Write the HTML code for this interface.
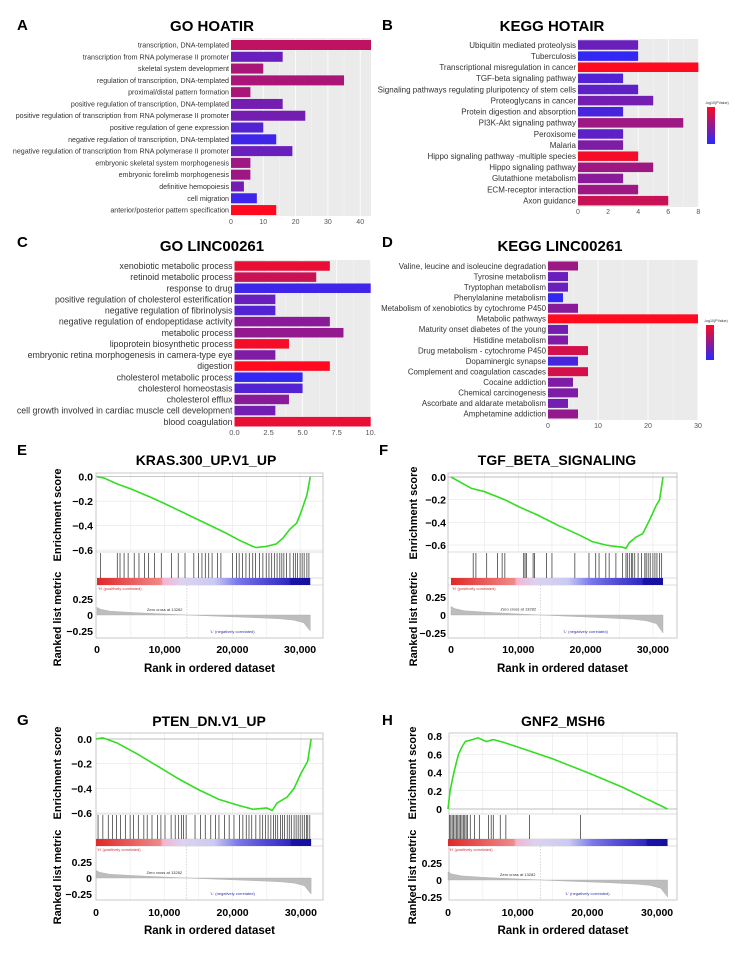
<!DOCTYPE html>
<html><head><meta charset="utf-8"><style>
html,body{margin:0;padding:0;background:#fff;}
svg{display:block;font-family:"Liberation Sans",Arial,sans-serif;}
</style></head><body>
<svg id="fig" width="749" height="959" viewBox="0 0 749 959" xmlns="http://www.w3.org/2000/svg"></svg>
<script>
// ---------- Bar chart data ----------
const aLabels=["transcription, DNA-templated","transcription from RNA polymerase II promoter","skeletal system development","regulation of transcription, DNA-templated","proximal/distal pattern formation","positive regulation of transcription, DNA-templated","positive regulation of transcription from RNA polymerase II promoter","positive regulation of gene expression","negative regulation of transcription, DNA-templated","negative regulation of transcription from RNA polymerase II promoter","embryonic skeletal system morphogenesis","embryonic forelimb morphogenesis","definitive hemopoiesis","cell migration","anterior/posterior pattern specification"];
const aValues=[44,16,10,35,6,16,23,10,14,19,6,6,4,8,14];
const aSig=[0.7,0.3,0.6,0.6,0.6,0.35,0.35,0.2,0.1,0.3,0.55,0.55,0.35,0.1,1.0];
const aTicks=[0,10,20,30,40];
const bLabels=["Ubiquitin mediated proteolysis","Tuberculosis","Transcriptional misregulation in cancer","TGF-beta signaling pathway","Signaling pathways regulating pluripotency of stem cells","Proteoglycans in cancer","Protein digestion and absorption","PI3K-Akt signaling pathway","Peroxisome","Malaria","Hippo signaling pathway -multiple species","Hippo signaling pathway","Glutathione metabolism","ECM-receptor interaction","Axon guidance"];
const bValues=[4,4,8,3,4,5,3,7,3,3,4,5,3,4,6];
const bSig=[0.3,0.05,1,0.2,0.25,0.35,0.15,0.55,0.25,0.4,0.95,0.55,0.45,0.55,0.75];
const bTicks=[0,2,4,6,8];
const cLabels=["xenobiotic metabolic process","retinoid metabolic process","response to drug","positive regulation of cholesterol esterification","negative regulation of fibrinolysis","negative regulation of endopeptidase activity","metabolic process","lipoprotein biosynthetic process","embryonic retina morphogenesis in camera-type eye","digestion","cholesterol metabolic process","cholesterol homeostasis","cholesterol efflux","cell growth involved in cardiac muscle cell development","blood coagulation"];
const cValues=[7,6,10,3,3,7,8,4,3,7,5,5,4,3,10];
const cSig=[0.9,0.75,0.1,0.3,0.2,0.45,0.5,0.95,0.4,1,0.05,0.2,0.45,0.35,0.9];
const cTicks=[0,2.5,5,7.5,10];
const cTickLabels=["0.0","2.5","5.0","7.5","10."];
const dLabels=["Valine, leucine and isoleucine degradation","Tyrosine metabolism","Tryptophan metabolism","Phenylalanine metabolism","Metabolism of xenobiotics by cytochrome P450","Metabolic pathways","Maturity onset diabetes of the young","Histidine metabolism","Drug metabolism - cytochrome P450","Dopaminergic synapse","Complement and coagulation cascades","Cocaine addiction","Chemical carcinogenesis","Ascorbate and aldarate metabolism","Amphetamine addiction"];
const dValues=[6,4,4,3,6,30,4,4,8,6,8,5,6,4,6];
const dSig=[0.55,0.3,0.3,0.05,0.45,1,0.35,0.4,0.8,0.15,0.8,0.4,0.4,0.35,0.5];
const dTicks=[0,10,20,30];

// ---------- GSEA data (ranks in thousands) ----------
const eRanks=[0,1,3,5,8,10,13,16,19,21,23,23.5,25,26.5,27.5,28.5,29.5,30.2,31,31.5];
const eES=[0,-0.01,-0.06,-0.1,-0.17,-0.22,-0.3,-0.38,-0.46,-0.52,-0.57,-0.58,-0.57,-0.55,-0.5,-0.43,-0.38,-0.28,-0.15,0];
const eHits=[0.5,3,3.4,4,4.6,5.5,6.2,7,7.6,8.5,9.5,11,12,13,14.3,15,15.5,16,16.5,17,17.8,18.3,20,20.6,21,21.5,22,22.5,23,23.4,24,24.5,25,25.4,25.8,26.2,26.6,27,27.3,27.6,28,28.5,29,29.3,29.6,30,30.3,30.6,31,31.3];
const fRanks=[0,3,5,8,10,13,16,19,21,23,24,25.5,26,26.5,27.5,28.5,29.5,30.5,31,31.5];
const fES=[0,-0.1,-0.13,-0.2,-0.26,-0.34,-0.43,-0.51,-0.57,-0.6,-0.61,-0.62,-0.63,-0.58,-0.53,-0.5,-0.38,-0.25,-0.2,0];
const fHits=[3.3,3.7,5.3,6.9,7.6,8.0,10.8,11,11.2,12.2,12.4,14.2,15,18.4,20.5,21.5,22,23,23.5,24.5,25.5,26,26.2,26.5,26.8,27,27.3,27.8,28.3,28.8,29,29.3,29.6,30,30.3,30.6,31,31.3];
const gRanks=[0,1,3,6,9,12,15,18,21,23,25,25.8,26.5,28,29,30,31,31.5];
const gES=[0,0.01,-0.03,-0.12,-0.22,-0.32,-0.41,-0.49,-0.54,-0.57,-0.56,-0.58,-0.52,-0.47,-0.4,-0.28,-0.18,0];
const gHits=[0.3,1,1.8,2.4,3,3.6,4.3,5,5.5,6.2,7,7.5,8.2,9,9.5,10.1,11,11.6,12.1,12.5,12.8,13.2,14.5,15.3,16,16.8,17.5,18,18.8,19.5,20.2,21,21.5,22,22.4,22.8,23.4,24,24.4,24.8,25.2,25.6,26,26.3,26.6,27,27.3,27.6,28,28.3,28.6,29,29.3,29.6,29.9,30.2,30.5,30.8,31,31.3];
const hRanks=[0,0.3,0.7,1,1.5,2,2.5,3.5,4.3,5.5,6.5,8,10,15,20,25,31.5];
const hES=[0,0.2,0.35,0.45,0.6,0.68,0.74,0.76,0.78,0.74,0.76,0.73,0.68,0.55,0.4,0.24,0];
const hHits=[0.2,0.4,0.6,0.8,1,1.2,1.4,1.6,1.8,2,2.2,2.4,2.6,2.8,3.2,3.8,4.5,5.8,6.2,6.5,7.5,8.3,11.7,19];
const metricRanks=[0,0.5,2,5,9,13.28,18,23,27,29,30.5,31.5];
const metricValues=[0.12,0.09,0.06,0.04,0.02,0,-0.02,-0.04,-0.06,-0.08,-0.12,-0.25];

const NS='http://www.w3.org/2000/svg';
const svg=document.getElementById('fig');
function mk(tag,parent,attrs){const e=document.createElementNS(NS,tag);for(const k in attrs)e.setAttribute(k,attrs[k]);parent.appendChild(e);return e;}
function sigColor(p){const r=Math.round(40+(255-40)*p),g=Math.round(40+(10-40)*p),b=Math.round(255+(30-255)*p);return `rgb(${r},${g},${b})`;}
function txt(parent,x,y,s,size,opts){const t=mk('text',parent,Object.assign({x:x,y:y,'font-size':size},opts||{}));t.textContent=s;return t;}

function panelHead(letter,lx,ly,title,tx,ty,tsize){
  const l=txt(svg,lx,ly,letter,15,{'font-weight':'bold'});
  
  
  const t=txt(svg,tx,ty,title,tsize,{'font-weight':'bold','text-anchor':'middle'});
  
  
}

function barChart(id,labels,vals,sig,ticks,tickLabels,L){
  const g=mk('g',svg,{});
  
  
  const sx=v=>L.x0+v*L.ppu;
  const bg=mk('rect',g,{x:L.x0,y:L.top,width:L.xr-L.x0,height:L.bot-L.top,fill:'#ebebeb'});
  
  
  for(let i=0;i<ticks.length;i++){
    const x=sx(ticks[i]);
    if(x<=L.xr) mk('line',g,{x1:x,x2:x,y1:L.top,y2:L.bot,stroke:'#fff','stroke-width':0.8});
    if(i<ticks.length-1){const xm=sx((ticks[i]+ticks[i+1])/2);if(xm<=L.xr) mk('line',g,{x1:xm,x2:xm,y1:L.top,y2:L.bot,stroke:'#f6f6f6','stroke-width':0.5});}
  }
  for(let i=0;i<labels.length;i++){
    const y=L.y0+i*L.sp;
    const w=Math.min(sx(vals[i]),L.xr)-L.x0;
    const r=mk('rect',g,{x:L.x0,y:y-L.bh/2,width:w,height:L.bh,fill:sigColor(sig[i])});
    
    
    const t=txt(g,L.x0-2,y+L.fs*0.35,labels[i],L.fs,{'text-anchor':'end',fill:'#333'});
    
    
  }
  for(let i=0;i<ticks.length;i++){
    const t=txt(g,sx(ticks[i]),L.tickY,tickLabels[i],L.tfs,{'text-anchor':'middle',fill:'#555'});
    
    
  }
  if(L.legend){
    const lg=mk('g',g,{});
    
    
    const gid='grad-'+id;
    const defs=mk('defs',lg,{});
    const lgr=mk('linearGradient',defs,{id:gid,x1:0,y1:1,x2:0,y2:0});
    mk('stop',lgr,{offset:'0','stop-color':sigColor(0)});
    mk('stop',lgr,{offset:'0.5','stop-color':sigColor(0.5)});
    mk('stop',lgr,{offset:'1','stop-color':sigColor(1)});
    mk('rect',lg,{x:L.legend.x,y:L.legend.y,width:8,height:L.legend.h,fill:`url(#${gid})`});
    txt(lg,L.legend.x-2,L.legend.y-3,'-log10(PValue)',3.6,{fill:'#333'});
  }
}

function gsea(id,ranks,es,hits,L){
  const g=mk('g',svg,{});
  
  
  const sx=r=>L.x0+r*L.ppk;
  const sy=v=>L.es0-v*L.esS;
  const my=v=>L.m0-v*L.mS;
  for(let r=5;r<=30;r+=5){
    const x=sx(r);
    mk('line',g,{x1:x,x2:x,y1:L.top,y2:L.esBot,stroke:'#e6e6e6','stroke-width':0.6});
    mk('line',g,{x1:x,x2:x,y1:L.cbBot,y2:L.bot,stroke:'#ececec','stroke-width':0.6});
  }
  for(const v of L.esTicks){const y=sy(v);mk('line',g,{x1:L.fl,x2:L.fr,y1:y,y2:y,stroke:'#e6e6e6','stroke-width':0.6});}
  const fr=mk('rect',g,{x:L.fl,y:L.top,width:L.fr-L.fl,height:L.bot-L.top,fill:'none',stroke:'#bbb','stroke-width':0.8});
  
  
  mk('line',g,{x1:L.fl,x2:L.fr,y1:L.esBot,y2:L.esBot,stroke:'#bbb','stroke-width':0.6});
  mk('line',g,{x1:L.fl,x2:L.fr,y1:L.hitBot,y2:L.hitBot,stroke:'#bbb','stroke-width':0.6});
  mk('line',g,{x1:L.fl,x2:L.fr,y1:L.cbBot,y2:L.cbBot,stroke:'#bbb','stroke-width':0.6});
  mk('line',g,{x1:L.fl,x2:L.fr,y1:sy(0),y2:sy(0),stroke:'#aaa','stroke-width':0.7});
  const pts=ranks.map((r,i)=>sx(r).toFixed(1)+','+sy(es[i]).toFixed(1)).join(' ');
  const pl=mk('polyline',g,{points:pts,fill:'none',stroke:'#33dd22','stroke-width':1.6});
  
  
  const hg=mk('g',g,{});
  
  
  for(const h of hits){const x=sx(h);mk('line',hg,{x1:x,x2:x,y1:L.esBot+1,y2:L.hitBot,stroke:'#222','stroke-width':0.8,'stroke-opacity':0.85});}
  const gid='cb-'+id;
  const defs=mk('defs',g,{});
  const lg=mk('linearGradient',defs,{id:gid,x1:0,y1:0,x2:1,y2:0});
  [[0,'#e02828'],[0.3,'#f08a8a'],[0.31,'#f2b4d2'],[0.4,'#dcd2f0'],[0.55,'#cbcaf2'],[0.66,'#7a78ea'],[0.76,'#5a52d8'],[0.9,'#3028c0'],[0.91,'#1a12a8'],[1,'#14109c']].forEach(s=>mk('stop',lg,{offset:s[0],'stop-color':s[1]}));
  const cb=mk('rect',g,{x:sx(0),y:L.hitBot,width:sx(31.5)-sx(0),height:L.cbBot-L.hitBot,fill:`url(#${gid})`});
  
  
  txt(g,sx(0)+1,L.cbBot+5,"'H' (positively correlated)",4,{fill:'#d03030'});
  let d='M'+sx(metricRanks[0])+','+my(0);
  metricRanks.forEach((r,i)=>{d+=' L'+sx(r).toFixed(1)+','+my(metricValues[i]).toFixed(1);});
  d+=' L'+sx(metricRanks[metricRanks.length-1])+','+my(0)+' Z';
  const mp=mk('path',g,{d:d,fill:'#bdbdbd',stroke:'#aaa','stroke-width':0.4});
  
  
  const zx=sx(13.282);
  mk('line',g,{x1:zx,x2:zx,y1:L.cbBot,y2:L.bot,stroke:'#bbb','stroke-width':0.6,'stroke-dasharray':'1.5,1.5'});
  txt(g,sx(10),my(0.06),'Zero cross at 13282',4,{fill:'#333','text-anchor':'middle'});
  txt(g,sx(20),L.bot-5,"'L' (negatively correlated)",4,{fill:'#3030b0','text-anchor':'middle'});
  L.esTicks.forEach((v,i)=>{const t=txt(g,L.yl,sy(v)+4,L.esTickLabels[i],10.5,{'font-weight':'bold','text-anchor':'end'});
    
    });
  [0.25,0,-0.25].forEach((v,i)=>{const t=txt(g,L.yl,my(v)+4,['0.25','0','\u22120.25'][i],10.5,{'font-weight':'bold','text-anchor':'end'});
    
    });
  ['0','10,000','20,000','30,000'].forEach((s,i)=>{const t=txt(g,sx(i*10),L.xtY,s,10.5,{'font-weight':'bold','text-anchor':'middle'});
    
    });
  const xl=txt(g,(L.fl+L.fr)/2,L.xlY,'Rank in ordered dataset',11.5,{'font-weight':'bold','text-anchor':'middle'});
  
  
  const y1=txt(g,0,0,'Enrichment score',11,{'font-weight':'bold','text-anchor':'middle',transform:`translate(${L.ytX},${L.ytES}) rotate(-90)`});
  
  
  const y2=txt(g,0,0,'Ranked list metric',11,{'font-weight':'bold','text-anchor':'middle',transform:`translate(${L.ytX},${L.ytRM}) rotate(-90)`});
  
  
}

panelHead('A',17,30,'GO HOATIR',212,31,15);
barChart('bar-chart-go-hotair',aLabels,aValues,aSig,aTicks,aTicks.map(String),{x0:231,ppu:3.23,xr:371,top:38,bot:216,y0:45,sp:11.79,bh:10,fs:7.1,tickY:224,tfs:7});
panelHead('B',382,30,'KEGG HOTAIR',552,31,15);
barChart('bar-chart-kegg-hotair',bLabels,bValues,bSig,bTicks,bTicks.map(String),{x0:578,ppu:15.04,xr:699,top:39,bot:207,y0:45,sp:11.12,bh:9.5,fs:8.0,tickY:214,tfs:7,legend:{x:707,y:107,h:37}});
panelHead('C',17,247,'GO LINC00261',212,251,15);
barChart('bar-chart-go-linc00261',cLabels,cValues,cSig,cTicks,cTickLabels,{x0:234.5,ppu:13.62,xr:371,top:260,bot:427,y0:266,sp:11.12,bh:9.5,fs:8.8,tickY:435,tfs:7.5});
panelHead('D',382,247,'KEGG LINC00261',560,251,15);
barChart('bar-chart-kegg-linc00261',dLabels,dValues,dSig,dTicks,dTicks.map(String),{x0:548,ppu:5.0,xr:698,top:260,bot:420,y0:266,sp:10.57,bh:9,fs:7.9,tickY:428,tfs:7,legend:{x:706,y:325,h:35}});

panelHead('E',17,455,'KRAS.300_UP.V1_UP',206,465,14);
gsea('gsea-kras',eRanks,eES,eHits,{x0:97,ppk:6.77,fl:96,fr:323,top:473,es0:476.7,esS:122.2,esBot:552,hitBot:578,cbBot:585,m0:615,mS:64,bot:638,yl:93,esTicks:[0,-0.2,-0.4,-0.6],esTickLabels:['0.0','\u22120.2','\u22120.4','\u22120.6'],xtY:653,xlY:672,ytX:61,ytES:515,ytRM:619});
panelHead('F',379,455,'TGF_BETA_SIGNALING',557,465,14);
gsea('gsea-tgf-beta',fRanks,fES,fHits,{x0:451,ppk:6.73,fl:448,fr:677,top:473,es0:477,esS:113.3,esBot:552,hitBot:578,cbBot:585,m0:615,mS:72,bot:638,yl:446,esTicks:[0,-0.2,-0.4,-0.6],esTickLabels:['0.0','\u22120.2','\u22120.4','\u22120.6'],xtY:653,xlY:672,ytX:417,ytES:513,ytRM:619});
panelHead('G',17,725,'PTEN_DN.V1_UP',209,726,14);
gsea('gsea-pten',gRanks,gES,gHits,{x0:96,ppk:6.83,fl:96,fr:323,top:733,es0:739,esS:123.3,esBot:814,hitBot:839,cbBot:846,m0:878,mS:64,bot:900,yl:92,esTicks:[0,-0.2,-0.4,-0.6],esTickLabels:['0.0','\u22120.2','\u22120.4','\u22120.6'],xtY:916,xlY:934,ytX:61,ytES:773,ytRM:877});
panelHead('H',382,725,'GNF2_MSH6',563,726,14);
gsea('gsea-gnf2-msh6',hRanks,hES,hHits,{x0:448,ppk:6.97,fl:449,fr:677,top:733,es0:809,esS:91.25,esBot:814,hitBot:839,cbBot:846,m0:880,mS:68,bot:900,yl:442,esTicks:[0.8,0.6,0.4,0.2,0],esTickLabels:['0.8','0.6','0.4','0.2','0'],xtY:916,xlY:934,ytX:416,ytES:773,ytRM:877});
</script>
</body></html>
